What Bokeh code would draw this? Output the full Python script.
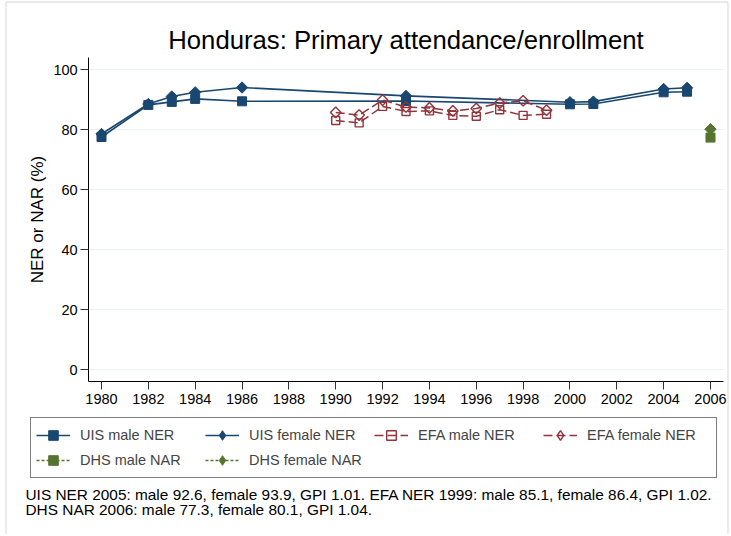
import math
from bokeh.plotting import figure
from bokeh.models import Range1d, FixedTicker, Legend, LegendItem, Label, BoxAnnotation
from bokeh.embed import file_html
from bokeh.resources import INLINE

# ---- data ----
uis_years = [1980, 1982, 1983, 1984, 1986, 1993, 2000, 2001, 2004, 2005]
uis_male = [77.5, 88.2, 89.2, 90.2, 89.4, 89.5, 88.4, 88.5, 92.4, 92.6]
uis_female = [78.5, 88.5, 91.0, 92.4, 94.0, 91.2, 89.1, 89.3, 93.5, 93.9]

efa_years = [1990, 1991, 1992, 1993, 1994, 1995, 1996, 1997, 1998, 1999]
efa_male = [83.0, 82.2, 87.7, 86.0, 86.2, 84.7, 84.4, 86.6, 84.7, 85.1]
efa_female = [85.7, 84.8, 89.8, 87.5, 87.2, 86.2, 87.0, 88.8, 89.6, 86.4]

dhs_years = [2006]
dhs_male = [77.3]
dhs_female = [80.1]

x_ticks = list(range(1980, 2007, 2))
y_ticks = [0, 20, 40, 60, 80, 100]

title_text = "Honduras: Primary attendance/enrollment"
y_label = "NER or NAR (%)"
note1 = "UIS NER 2005: male 92.6, female 93.9, GPI 1.01. EFA NER 1999: male 85.1, female 86.4, GPI 1.02."
note2 = "DHS NAR 2006: male 77.3, female 80.1, GPI 1.04."

NAVY = "#1a476f"
MAROON = "#90353b"
GREEN = "#55752f"
FONT = "Liberation Sans"

# ---- canvas geometry (the frame fills the whole canvas) ----
W, H = 730, 534
PX_PER_YEAR = 23.423          # horizontal scale
PX_PER_UNIT = 3.0             # vertical scale
X0 = 1980 - 101 / PX_PER_YEAR
X1 = X0 + W / PX_PER_YEAR
Y1 = 100 + 69 / PX_PER_UNIT
Y0 = Y1 - H / PX_PER_UNIT
XLO, XHI = 1979.45, 2006.55   # plot region in data units
YLO, YHI = -4, 104


def dx(px):
    return X0 + px / PX_PER_YEAR


def dy(py):
    return Y1 - py / PX_PER_UNIT


p = figure(width=W, height=H, output_backend="svg", toolbar_location=None,
           x_range=Range1d(X0, X1), y_range=Range1d(Y0, Y1),
           min_border=0, min_border_left=0, min_border_right=0,
           min_border_top=0, min_border_bottom=0)
p.title.visible = False
p.background_fill_color = "white"
p.border_fill_color = "white"
p.outline_line_color = None

# outer graph-region outline
p.add_layout(BoxAnnotation(left=dx(5.5), right=dx(727.5), top=dy(1.5), bottom=dy(H + 20),
                           fill_alpha=0, line_color="#7a7a7a", line_width=1))

# axes drawn at the plot region's edges
p.xaxis.fixed_location = YLO
p.xaxis.bounds = (XLO, XHI)
p.yaxis.fixed_location = XLO
p.yaxis.bounds = (YLO, YHI)
for ax in (p.xaxis[0], p.yaxis[0]):
    ax.axis_line_color = "black"
    ax.major_tick_line_color = "#333333"
    ax.minor_tick_line_color = None
    ax.major_label_text_font = FONT
    ax.major_label_text_font_size = "14.5px"
    ax.major_label_text_color = "black"
p.xaxis.ticker = FixedTicker(ticks=x_ticks)
p.yaxis.ticker = FixedTicker(ticks=y_ticks)
p.xaxis.major_tick_out = 8
p.xaxis.major_tick_in = 0
p.yaxis.major_tick_out = 8
p.yaxis.major_tick_in = 0
p.xaxis.major_label_standoff = 4
p.yaxis.major_label_standoff = 3
p.yaxis.axis_label = y_label
p.yaxis.axis_label_text_font = FONT
p.yaxis.axis_label_text_font_size = "17px"
p.yaxis.axis_label_text_font_style = "normal"
p.yaxis.axis_label_text_color = "black"
p.yaxis.axis_label_standoff = 3

p.xgrid.visible = False
p.ygrid.grid_line_color = "#eaf2f3"
p.ygrid.grid_line_width = 1.2
p.ygrid.ticker = FixedTicker(ticks=y_ticks)
p.ygrid.cross_bounds = (XLO, XHI)

# ---- series ----
l1 = p.line(uis_years, uis_male, line_color=NAVY, line_width=1.6)
m1 = p.scatter(uis_years, uis_male, marker="square", size=9, fill_color=NAVY, line_color=NAVY)
l2 = p.line(uis_years, uis_female, line_color=NAVY, line_width=1.6)
m2 = p.scatter(uis_years, uis_female, marker="square", size=8, angle=math.pi / 4,
               fill_color=NAVY, line_color=NAVY)
l3 = p.line(efa_years, efa_male, line_color=MAROON, line_width=1.5, line_dash="9 4")
m3 = p.scatter(efa_years, efa_male, marker="square", size=8, fill_alpha=0,
               line_color=MAROON, line_width=1.4)
l4 = p.line(efa_years, efa_female, line_color=MAROON, line_width=1.5, line_dash="9 4")
m4 = p.scatter(efa_years, efa_female, marker="square", size=7.5, angle=math.pi / 4,
               fill_alpha=0, line_color=MAROON, line_width=1.4)
l5 = p.line(dhs_years, dhs_male, line_color=GREEN, line_width=1.5, line_dash="3 2")
m5 = p.scatter(dhs_years, dhs_male, marker="square", size=9, fill_color=GREEN, line_color=GREEN)
l6 = p.line(dhs_years, dhs_female, line_color=GREEN, line_width=1.5, line_dash="3 2")
m6 = p.scatter(dhs_years, dhs_female, marker="square", size=8, angle=math.pi / 4,
               fill_color=GREEN, line_color=GREEN)

# legend-only diamond glyphs (legend glyphs ignore marker angle)
k2 = p.scatter(uis_years, uis_female, marker="diamond", size=14,
               fill_color=NAVY, line_color=NAVY, visible=False)
k4 = p.scatter(efa_years, efa_female, marker="diamond", size=13, fill_alpha=0,
               line_color=MAROON, line_width=1.4, visible=False)
k6 = p.scatter(dhs_years, dhs_female, marker="diamond", size=14,
               fill_color=GREEN, line_color=GREEN, visible=False)

items = [
    LegendItem(label="UIS male NER", renderers=[l1, m1]),
    LegendItem(label="UIS female NER", renderers=[l2, k2]),
    LegendItem(label="EFA male NER", renderers=[l3, m3]),
    LegendItem(label="EFA female NER", renderers=[l4, k4]),
    LegendItem(label="DHS male NAR", renderers=[l5, m5]),
    LegendItem(label="DHS female NAR", renderers=[l6, k6]),
]
legend = Legend(items=items, orientation="horizontal", ncols=4, location=(30, H - 478),
                glyph_width=34, glyph_height=24, label_standoff=10,
                label_width=124, label_height=20, spacing=1, padding=5,
                margin=0,
                label_text_font=FONT, label_text_font_size="14.5px",
                border_line_color="black", border_line_width=1,
                background_fill_color="white", background_fill_alpha=1,
                inactive_fill_alpha=0)
p.add_layout(legend, "center")

# ---- texts ----
p.add_layout(Label(x=(XLO + XHI) / 2, y=dy(39), text=title_text, text_font=FONT,
                   text_font_size="25.7px", text_align="center",
                   text_baseline="middle", text_color="black"))
p.add_layout(Label(x=dx(25), y=dy(494), text=note1, text_font=FONT,
                   text_font_size="15.4px", text_align="left",
                   text_baseline="middle", text_color="black"))
p.add_layout(Label(x=dx(25), y=dy(509), text=note2, text_font=FONT,
                   text_font_size="15.4px", text_align="left",
                   text_baseline="middle", text_color="black"))

open("out.html", "w").write(file_html(p, INLINE))
